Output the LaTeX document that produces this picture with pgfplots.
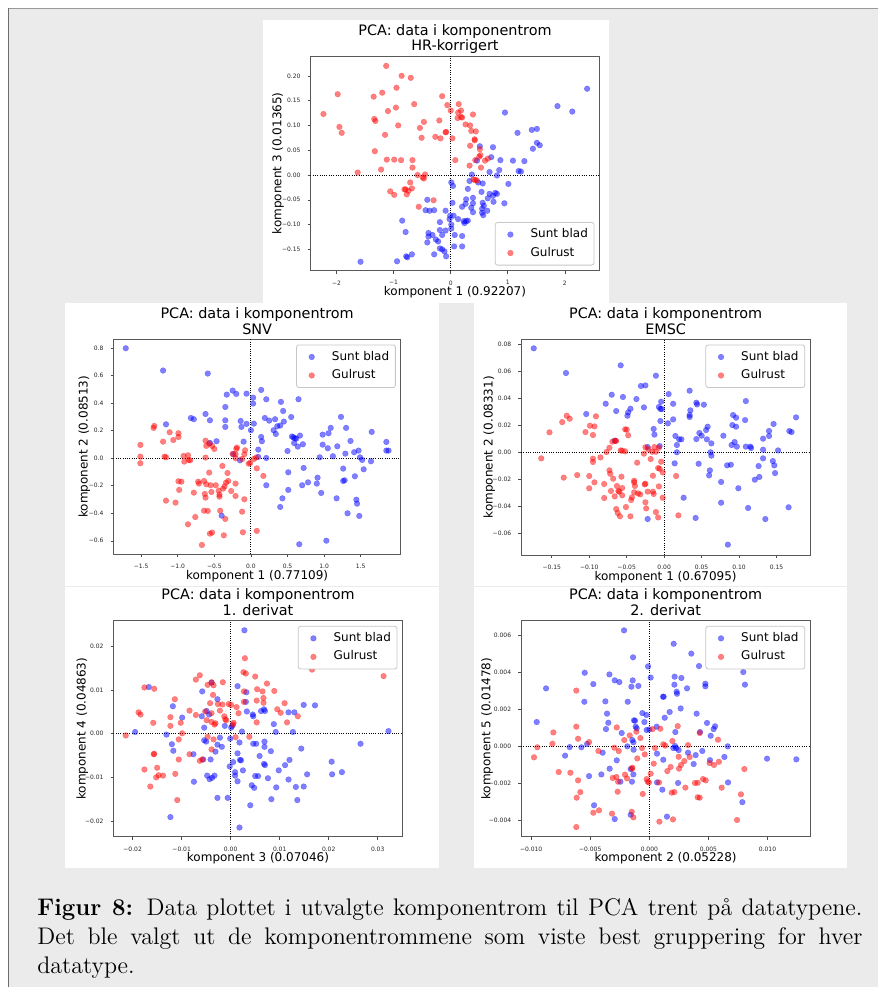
\documentclass[border=0pt]{standalone}
\usepackage{fontspec}
\newfontfamily\dejavu{DejaVu Sans}
\usepackage{pgfplots}
\pgfplotsset{compat=1.18}
\usetikzlibrary{calc}
\definecolor{bggray}{RGB}{235,235,235}
\definecolor{frameline}{RGB}{110,110,110}

\tikzset{zl/.style={black, line width=0.5pt, dash pattern=on 0.5pt off 0.65pt}}
\pgfplotsset{
  pca/.style={
    scale only axis, anchor=north west, scaled ticks=false,
    axis line style={black!65, line width=0.5pt},
    tick pos=left, tick align=outside, major tick length=1.4pt,
    every tick/.style={black!70, line width=0.3pt},
    tick label style={font=\dejavu\fontsize{3}{3.6}\selectfont, text=black!85},
    every axis title/.style={at={(axis description cs:0.5,1)}, anchor=south, inner sep=0pt,
      yshift=0.9pt, align=center, font=\dejavu\fontsize{7.2}{7.9}\selectfont},
    every axis x label/.style={at={(axis description cs:0.5,0)}, anchor=base, yshift=-12.6pt,
      font=\dejavu\fontsize{6}{7}\selectfont},
    legend cell align=left,
    legend style={draw=black!22, rounded corners=1.2pt, fill=white,
      font=\dejavu\fontsize{6}{7}\selectfont, inner xsep=1.5pt, inner ysep=1.4pt,
      nodes={inner sep=1.6pt}},
    legend image code/.code={\path (0pt,0pt) (14.2pt,0pt);
      \draw[##1] plot coordinates {(5.9pt,0pt)};},
  },
  ylab/.style 2 args={every axis y label/.style={rotate=90, anchor=base,
      at={($(axis description cs:0,0.5)+(-#1,0)$)}, font=\dejavu\fontsize{6}{7}\selectfont},
    ylabel={#2}},
  legtr/.style={legend style={at={(1,1)}, anchor=north east, xshift=-2.6pt, yshift=-2.6pt}},
  legbr/.style={legend style={at={(1,0)}, anchor=south east, xshift=-2.6pt, yshift=2.6pt}},
  sunt/.style={only marks, mark=*, mark size=1.45pt, color=blue,
    mark options={fill opacity=0.5, draw opacity=0.35, line width=0.15pt}},
  gul/.style={only marks, mark=*, mark size=1.45pt, color=red,
    mark options={fill opacity=0.5, draw opacity=0.35, line width=0.15pt}},
}
\newcommand{\zerolines}{%
  \draw[zl] ({axis cs:0,0}|-{rel axis cs:0,0}) -- ({axis cs:0,0}|-{rel axis cs:0,1});
  \draw[zl] ({rel axis cs:0,0}|-{axis cs:0,0}) -- ({rel axis cs:1,0}|-{axis cs:0,0});}

\begin{document}
\begin{tikzpicture}
\useasboundingbox (0,0) rectangle (439pt,-493.5pt);
% page background and the framed caption box
\begin{scope}[x=0.5pt, y=-0.5pt]
  \fill[white] (0,0) rectangle (878,987);
  \fill[bggray] (8,8) rectangle (878,987);
  \draw[black!40, line width=0.5pt] (8,8.3) -- (878,8.3);
  \draw[frameline, line width=0.5pt] (8.3,8) -- (8.3,987);
  \fill[white] (263,20) rectangle (609,303);
  \fill[white] (65,303) rectangle (439,586);
  \fill[white] (474,303) rectangle (847,586);
  \fill[white] (65,587) rectangle (439,868);
  \fill[white] (474,587) rectangle (847,868);
\end{scope}

% HR-korrigert
\begin{axis}[pca, legbr, at={(155.15pt,-28pt)}, width=144.7pt, height=107.35pt,
  xmin=-2.46, xmax=2.61, ymin=-0.193, ymax=0.240,
  xtick={-2,-1,0,1,2}, xticklabels={−2,−1,0,1,2},
  ytick={-0.15,-0.10,-0.05,0,0.05,0.10,0.15,0.20},
  yticklabels={−0.15,−0.10,−0.05,0.00,0.05,0.10,0.15,0.20},
  title={PCA: data i komponentrom\\HR-korrigert\vphantom{g}},
  xlabel={komponent 1 (0.92207)}, ylab={14.5pt}{komponent 3 (0.01365)}]
\addplot[sunt] coordinates {
(2.39,0.174) (1.87,0.139) (2.13,0.128) (0.95,0.126) (1.17,0.085) (1.42,0.091) (1.51,0.093)
(1.44,0.053) (1.51,0.065) (1.56,0.060) (0.74,0.056) (0.51,0.058) (0.71,0.036) (0.87,0.030)
(1.09,0.029) (1.29,0.028) (0.46,0.029) (0.85,0.010) (0.68,0.006) (1.19,0.008) (1.23,0.007)
(0.81,-0.001) (0.37,0.001) (1.01,-0.018) (0.33,-0.012) (0.48,-0.015) (0.56,-0.017) (0.01,-0.015)
(0.04,-0.022) (0.30,-0.028) (0.68,-0.038) (0.78,-0.036) (0.81,-0.038) (0.74,-0.042) (0.54,-0.034)
(0.39,-0.046) (0.27,-0.049) (0.26,-0.058) (0.39,-0.057) (0.56,-0.056) (0.58,-0.062) (0.75,-0.054)
(0.94,-0.057) (0.65,-0.047) (0.03,-0.056) (-0.41,-0.050) (-0.44,-0.071) (-0.37,-0.072) (-0.29,-0.071)
(-0.09,-0.072) (-0.01,-0.082) (0.05,-0.082) (0.20,-0.064) (0.36,-0.066) (0.39,-0.075) (0.55,-0.068)
(0.55,-0.076) (0.57,-0.081) (0.64,-0.072) (-0.02,-0.089) (-0.19,-0.095) (0.13,-0.089) (0.23,-0.093)
(0.27,-0.093) (0.30,-0.092) (0.24,-0.097) (-0.85,-0.092) (-0.79,-0.115) (0.01,-0.100) (0.01,-0.108)
(-0.09,-0.112) (-0.19,-0.111) (-0.39,-0.117) (-0.32,-0.121) (-0.39,-0.124) (-0.15,-0.121) (-0.26,-0.130)
(-0.22,-0.134) (-0.41,-0.136) (0.20,-0.123) (-0.19,-0.148) (-0.15,-0.150) (-0.11,-0.154) (0.06,-0.144)
(0.20,-0.144) (-0.08,-0.164) (-0.29,-0.160) (-0.68,-0.160) (-0.78,-0.164) (-0.76,-0.166) (-0.94,-0.174)
(-1.58,-0.175) (0.07,-0.121)};
\addplot[gul] coordinates {
(-1.13,0.220) (-0.86,0.200) (-0.70,0.196) (-1.98,0.163) (-0.95,0.176) (-1.20,0.166) (-1.35,0.158)
(-0.15,0.159) (-0.64,0.143) (-0.96,0.136) (-1.10,0.129) (-2.23,0.123) (0.14,0.143) (-0.06,0.141)
(0.00,0.130) (0.18,0.130) (0.13,0.126) (0.39,0.122) (0.20,0.116) (0.18,0.117) (0.12,0.115)
(-1.34,0.113) (-1.32,0.109) (-0.47,0.107) (-0.20,0.110) (0.26,0.102) (-1.95,0.097) (-0.92,0.100)
(-0.54,0.095) (0.34,0.100) (-1.91,0.085) (-1.15,0.081) (0.36,0.089) (0.44,0.088) (-0.08,0.087)
(-0.09,0.086) (-0.51,0.075) (-0.27,0.077) (-0.18,0.074) (0.03,0.074) (0.42,0.072) (0.42,0.070)
(0.34,0.059) (-1.33,0.048) (0.51,0.052) (0.52,0.040) (0.50,0.037) (0.65,0.033) (-1.12,0.031)
(-0.99,0.031) (-0.87,0.030) (-0.67,0.030) (0.08,0.030) (0.60,0.029) (0.43,0.030) (0.33,0.019)
(-0.67,0.015) (0.53,0.015) (-1.22,0.011) (-1.63,0.005) (-0.58,0.000) (-0.45,0.001) (-0.49,-0.005)
(-0.47,-0.007) (0.40,-0.009) (0.43,-0.010) (0.46,-0.011) (-0.71,-0.015) (-0.79,-0.029) (-0.81,-0.029)
(-0.68,-0.027) (-0.74,-0.032) (-1.06,-0.033) (-0.77,-0.039) (-0.99,-0.040) (-0.30,-0.051) (-0.56,-0.064)};
\legend{Sunt blad, Gulrust}
\zerolines
\end{axis}

% SNV
\begin{axis}[pca, legtr, at={(56.65pt,-169.65pt)}, width=143.85pt, height=107.5pt,
  xmin=-1.88, xmax=2.05, ymin=-0.698, ymax=0.865,
  xtick={-1.5,-1,-0.5,0,0.5,1,1.5}, xticklabels={−1.5,−1.0,−0.5,0.0,0.5,1.0,1.5},
  ytick={-0.6,-0.4,-0.2,0,0.2,0.4,0.6,0.8},
  yticklabels={−0.6,−0.4,−0.2,0.0,0.2,0.4,0.6,0.8},
  title={PCA: data i komponentrom\\SNV\vphantom{g}},
  xlabel={komponent 1 (0.77109)}, ylab={12.8pt}{komponent 2 (0.08513)}]
\addplot[sunt] coordinates {
(-1.71,0.80) (-1.20,0.638) (-0.59,0.616) (-0.25,0.492) (-0.33,0.463) (-0.20,0.468) (-0.06,0.470)
(0.03,0.441) (0.03,0.398) (0.14,0.497) (0.21,0.429) (0.55,0.300) (0.65,0.429) (0.41,0.41)
(0.44,0.344) (-0.35,0.373) (-0.62,0.322) (-0.82,0.293) (-0.78,0.284) (-0.56,0.276) (-0.35,0.276)
(-0.35,0.228) (-0.14,0.271) (-0.13,0.228) (-0.06,0.25) (0.04,0.252) (0.00,0.204) (0.19,0.293)
(0.25,0.274) (0.33,0.284) (0.45,0.267) (0.36,0.233) (0.40,0.238) (0.31,0.204) (0.34,0.177)
(0.14,0.155) (0.15,0.124) (-0.10,0.121) (-0.47,0.124) (-0.56,0.112) (-1.16,0.247) (0.10,0.063)
(0.10,0.010) (0.21,0.002) (-0.15,-0.015) (0.50,0.053) (0.56,0.158) (0.58,0.153) (0.60,0.145)
(0.62,0.143) (0.59,0.111) (0.64,0.085) (0.67,0.165) (0.71,0.102) (0.51,-0.102) (0.72,-0.070)
(0.51,-0.230) (0.70,-0.196) (0.78,-0.175) (0.21,-0.196) (0.43,-0.291) (0.40,-0.354) (0.96,-0.252)
(0.90,-0.184) (0.91,-0.141) (0.98,0.172) (1.06,0.182) (1.09,0.221) (1.05,0.073) (0.98,0.099)
(0.94,0.007) (1.12,0.015) (1.18,0.087) (1.23,0.301) (1.30,0.221) (1.29,0.034) (1.36,0.126)
(1.26,-0.075) (1.26,-0.165) (1.28,-0.160) (1.17,-0.291) (1.32,-0.400) (1.45,-0.330) (1.44,-0.301)
(1.42,-0.131) (1.41,0.044) (1.47,0.056) (1.49,0.007) (1.52,-0.012) (1.54,-0.080) (1.48,-0.419)
(1.65,0.192) (1.64,-0.022) (1.85,0.119) (1.85,0.056) (1.88,0.056) (0.66,-0.625) (1.03,-0.599)
(-0.40,-0.417) (-0.24,0.03)};
\addplot[gul] coordinates {
(-1.32,0.235) (-1.33,0.221) (-1.51,0.097) (-1.51,0.012) (-1.51,-0.036) (-1.11,0.189) (-1.20,0.121)
(-1.18,0.012) (-1.16,0.007) (-1.06,0.133) (-0.99,0.182) (-0.99,0.155) (-1.16,-0.308) (-1.03,-0.322)
(-0.99,-0.167) (-0.95,-0.170) (-0.98,-0.230) (-0.92,0.017) (-0.86,0.022) (-0.91,-0.024) (-0.85,-0.012)
(-0.83,-0.015) (-0.78,-0.250) (-0.76,-0.427) (-0.86,-0.480) (-0.62,0.128) (-0.61,0.090) (-0.62,0.005)
(-0.57,0.107) (-0.53,0.090) (-0.50,0.068) (-0.72,-0.170) (-0.71,-0.184) (-0.64,-0.165) (-0.61,-0.189)
(-0.55,-0.196) (-0.63,-0.259) (-0.62,-0.286) (-0.64,-0.381) (-0.59,-0.383) (-0.57,-0.104) (-0.56,-0.548)
(-0.53,-0.540) (-0.67,-0.630) (-0.48,-0.196) (-0.54,-0.245) (-0.44,-0.235) (-0.43,-0.264) (-0.43,-0.279)
(-0.42,-0.381) (-0.39,-0.056) (-0.38,-0.221) (-0.36,-0.204) (-0.34,-0.177) (-0.31,-0.165) (-0.32,-0.107)
(-0.35,-0.441) (-0.37,-0.560) (-0.27,-0.238) (-0.21,-0.184) (-0.21,-0.274) (-0.25,0.032) (-0.21,0.029)
(-0.20,0.068) (-0.19,0.078) (-0.21,0.000) (-0.12,-0.005) (-0.09,-0.298) (-0.12,-0.388) (-0.11,-0.538)
(-0.08,0.058) (-0.09,0.029) (-0.03,-0.039) (-0.01,-0.034) (0.04,-0.005) (0.07,0.005) (0.08,-0.073)
(0.17,-0.128) (0.08,-0.528)};
\legend{Sunt blad, Gulrust}
\zerolines
\end{axis}

% EMSC
\begin{axis}[pca, legtr, at={(260.5pt,-169.65pt)}, width=144.65pt, height=107.85pt,
  xmin=-0.191, xmax=0.195, ymin=-0.0764, ymax=0.0836,
  xtick={-0.15,-0.10,-0.05,0,0.05,0.10,0.15},
  xticklabels={−0.15,−0.10,−0.05,0.00,0.05,0.10,0.15},
  ytick={-0.06,-0.04,-0.02,0,0.02,0.04,0.06,0.08},
  yticklabels={−0.06,−0.04,−0.02,0.00,0.02,0.04,0.06,0.08},
  title={PCA: data i komponentrom\\EMSC\vphantom{g}},
  xlabel={komponent 1 (0.67095)}, ylab={14.2pt}{komponent 2 (0.08331)}]
\addplot[sunt] coordinates {
(-0.174,0.0769) (-0.131,0.0586) (-0.058,0.0643) (-0.011,0.0566) (-0.031,0.0490) (-0.025,0.0494)
(-0.070,0.0425) (-0.055,0.0408) (-0.037,0.0393) (0.006,0.0430) (0.034,0.0455) (-0.078,0.0358)
(-0.004,0.0373) (0.012,0.0358) (-0.045,0.0321) (-0.048,0.0294) (-0.049,0.0269) (-0.064,0.0304)
(-0.104,0.0282) (-0.027,0.0331) (-0.007,0.0334) (-0.005,0.0319) (-0.003,0.0319) (0.043,0.0366)
(0.044,0.0353) (0.053,0.0351) (0.035,0.0309) (0.034,0.0274) (0.034,0.0260) (0.012,0.0242)
(-0.005,0.0230) (0.005,0.0213) (0.109,0.0378) (0.092,0.0274) (0.096,0.0255) (0.108,0.0237)
(0.176,0.0257) (0.146,0.0208) (0.091,0.0200) (0.096,0.0188) (0.058,0.0188) (0.056,0.0163)
(0.140,0.0156) (0.047,0.0141) (0.050,0.0121) (0.079,0.0121) (0.140,0.0119) (0.132,0.0099)
(0.170,0.0148) (0.167,0.0156) (-0.014,0.0171) (-0.013,0.0129) (0.015,0.0119) (0.020,0.0094)
(0.023,0.0094) (0.017,0.0052) (0.043,0.0096) (0.057,0.0094) (0.063,0.0064) (0.094,0.0074)
(0.097,0.0040) (0.090,0.0052) (0.109,0.0040) (0.115,0.0040) (0.116,0.0030) (0.132,0.0017)
(0.152,0.0012) (-0.006,0.0044) (-0.022,0.0037) (0.017,-0.0002) (0.062,-0.0002) (0.063,-0.0027)
(0.132,-0.0047) (0.145,-0.0067) (0.147,-0.0099) (0.148,-0.0156) (0.084,-0.0099) (0.089,-0.0094)
(0.126,-0.0104) (0.127,-0.0185) (0.121,-0.0205) (0.014,-0.0084) (0.046,-0.0087) (0.061,-0.0136)
(0.060,-0.0173) (0.076,-0.0222) (0.099,-0.0269) (0.026,-0.0339) (0.076,-0.0376) (0.112,-0.0415)
(0.166,-0.0410) (0.042,-0.0489) (0.135,-0.0497) (-0.022,-0.0497) (0.085,-0.0687) (-0.066,0.0084)};
\addplot[gul] coordinates {
(-0.153,0.0146) (-0.164,-0.0047) (-0.130,0.0269) (-0.126,0.0247) (-0.136,0.0222) (-0.134,-0.0190)
(-0.116,-0.0171) (-0.105,0.0148) (-0.099,0.0195) (-0.093,0.0190) (-0.091,0.0265) (-0.095,0.0126)
(-0.095,-0.0049) (-0.095,-0.0074) (-0.100,-0.0178) (-0.100,-0.0269) (-0.093,-0.0225) (-0.085,-0.0040)
(-0.080,-0.0341) (-0.080,-0.0237) (-0.077,0.0000) (-0.073,0.0032) (-0.069,0.0077) (-0.065,0.0084)
(-0.064,0.0082) (-0.073,-0.0136) (-0.072,-0.0161) (-0.071,-0.0289) (-0.068,-0.0198) (-0.066,-0.0329)
(-0.064,-0.0423) (-0.062,-0.0452) (-0.059,-0.0477) (-0.063,-0.0252) (-0.061,-0.0289) (-0.060,-0.0294)
(-0.056,-0.0321) (-0.056,-0.0267) (-0.057,-0.0183) (-0.058,0.0012) (-0.056,0.0010) (-0.052,0.0005)
(-0.052,0.0168) (-0.050,0.0166) (-0.048,0.0124) (-0.051,-0.0408) (-0.045,-0.0477) (-0.044,-0.0356)
(-0.043,-0.0336) (-0.040,-0.0299) (-0.040,-0.0225) (-0.040,-0.0213) (-0.039,-0.0252) (-0.036,-0.0079)
(-0.035,-0.0307) (-0.032,-0.0314) (-0.026,-0.0240) (-0.025,-0.0235) (-0.025,-0.0373) (-0.024,-0.0418)
(-0.022,-0.0294) (-0.025,0.0035) (-0.027,-0.0012) (-0.021,0.0020) (-0.018,-0.0052) (-0.016,0.0002)
(-0.015,-0.0176) (-0.015,-0.0294) (-0.014,-0.0311) (-0.013,0.0037) (-0.011,0.0002) (-0.007,0.0032)
(-0.008,-0.0119) (-0.006,-0.0124) (-0.007,-0.0255) (-0.011,-0.0445) (-0.008,-0.0485) (-0.004,-0.0072)
(-0.002,-0.0151) (-0.002,-0.0339) (0.016,-0.0178) (0.019,-0.0470)};
\legend{Sunt blad, Gulrust}
\zerolines
\end{axis}

% 1. derivat
\begin{axis}[pca, legtr, at={(56.65pt,-310.35pt)}, width=144.7pt, height=108pt,
  xmin=-0.02395, xmax=0.0351, ymin=-0.0236, ymax=0.0259,
  xtick={-0.02,-0.01,0,0.01,0.02,0.03},
  xticklabels={−0.02,−0.01,0.00,0.01,0.02,0.03},
  ytick={-0.02,-0.01,0,0.01,0.02}, yticklabels={−0.02,−0.01,0.00,0.01,0.02},
  title={PCA: data i komponentrom\\1. derivat\vphantom{g}},
  xlabel={komponent 3 (0.07046)}, ylab={13.8pt}{komponent 4 (0.04863)}]
\addplot[sunt] coordinates {
(0.0028,0.0237) (-0.0195,0.0004) (-0.0167,0.0107) (-0.0118,0.0063) (-0.0099,0.0037) (-0.0131,-0.0002)
(-0.0120,-0.0024) (-0.0117,-0.0039) (-0.0123,-0.0191) (-0.0076,-0.0047) (-0.0075,-0.0110) (-0.0058,0.0097)
(-0.0059,0.0040) (-0.0054,0.0014) (-0.0054,-0.0015) (-0.0050,-0.0018) (-0.0056,-0.0059) (-0.0048,-0.0096)
(-0.0043,-0.0104) (-0.0038,-0.0101) (-0.0033,-0.0096) (-0.0039,0.0117) (-0.0049,0.0052) (-0.0044,0.0044)
(-0.0027,0.0079) (-0.0041,-0.0059) (-0.0031,-0.0041) (-0.0027,-0.0025) (-0.0018,-0.0030) (-0.0022,-0.0009)
(-0.0027,-0.0147) (-0.0012,0.0018) (-0.0006,-0.0147) (-0.0002,-0.0075) (-0.0001,-0.0011) (0.0001,0.0014)
(0.0003,0.0018) (0.0005,-0.0065) (0.0009,-0.0088) (0.0009,-0.0096) (0.0014,0.0109) (0.0014,-0.0045)
(0.0014,-0.0109) (0.0018,-0.0020) (0.0019,-0.0060) (0.0021,-0.0061) (0.0023,0.0005) (0.0025,-0.0084)
(0.0018,-0.0215) (0.0032,0.0095) (0.0031,0.0073) (0.0033,0.0051) (0.0040,-0.0164) (0.0043,-0.0118)
(0.0045,0.0044) (0.0046,0.0040) (0.0048,-0.0124) (0.0046,-0.0023) (0.0052,-0.0023) (0.0050,-0.0097)
(0.0056,-0.0097) (0.0059,-0.0051) (0.0062,0.0052) (0.0068,0.0056) (0.0070,0.0052) (0.0069,-0.0018)
(0.0069,-0.0030) (0.0068,-0.0069) (0.0070,-0.0072) (0.0076,-0.0102) (0.0082,-0.0040) (0.0083,-0.0150)
(0.0088,0.0022) (0.0092,0.0004) (0.0093,-0.0123) (0.0098,-0.0084) (0.0118,0.0049) (0.0118,-0.0105)
(0.0120,-0.0060) (0.0111,-0.0072) (0.0127,0.0004) (0.0130,0.0049) (0.0133,-0.0122) (0.0136,-0.0152)
(0.0144,-0.0034) (0.0149,0.0066) (0.0149,-0.0121) (0.0156,-0.0093) (0.0172,0.0065) (0.0206,-0.0064)
(0.0207,-0.0093) (0.0227,-0.0088) (0.0265,-0.0023) (0.0322,0.0006)};
\addplot[gul] coordinates {
(-0.0214,-0.0004) (-0.0188,0.0049) (-0.0184,0.0044) (-0.0176,0.0106) (-0.0156,0.0103) (-0.0176,-0.0082)
(-0.0158,0.0025) (-0.0157,-0.0047) (-0.0156,-0.0046) (-0.0150,-0.0078) (-0.0152,-0.0100) (-0.0147,-0.0095)
(-0.0164,-0.0121) (-0.0138,-0.0096) (-0.0123,0.0038) (-0.0123,0.0018) (-0.0114,0.0079) (-0.0113,-0.0092)
(-0.0109,-0.0152) (-0.0106,-0.0013) (-0.0106,-0.0059) (-0.0102,0.0025) (-0.0099,0.0001) (-0.0084,0.0053)
(-0.0084,-0.0047) (-0.0071,0.0124) (-0.0071,0.0043) (-0.0063,0.0134) (-0.0063,-0.0062) (-0.0058,-0.0059)
(-0.0052,0.0051) (-0.0049,0.0031) (-0.0047,0.0112) (-0.0039,0.0118) (-0.0035,0.0111) (-0.0042,0.0070)
(-0.0039,0.0047) (-0.0039,0.0027) (-0.0039,-0.0036) (-0.0036,0.0089) (-0.0033,0.0021) (-0.0031,0.0024)
(-0.0035,-0.0013) (-0.0047,-0.0007) (-0.0026,0.0068) (-0.0022,0.0053) (-0.0016,0.0118) (-0.0017,0.0067)
(-0.0013,0.0040) (-0.0011,0.0033) (-0.0009,0.0031) (-0.0004,0.0068) (0.0001,0.0066) (0.0006,0.0025)
(0.0005,0.0021) (0.0010,-0.0008) (0.0012,0.0061) (0.0016,0.0047) (0.0026,0.0141) (0.0029,0.0173)
(0.0031,0.0138) (0.0027,0.0097) (0.0027,0.0073) (0.0038,-0.0007) (0.0050,0.0131) (0.0054,0.0102)
(0.0053,0.0076) (0.0053,0.0026) (0.0065,0.0097) (0.0067,0.0082) (0.0067,0.0071) (0.0074,0.0115)
(0.0089,0.0098) (0.0095,0.0056) (0.0102,0.0048) (0.0110,0.0070) (0.0115,0.0026) (0.0137,0.0040)
(0.0166,0.0147) (0.0312,0.0132)};
\legend{Sunt blad, Gulrust}
\zerolines
\end{axis}

% 2. derivat
\begin{axis}[pca, legtr, at={(260.5pt,-310.35pt)}, width=144.65pt, height=108pt,
  xmin=-0.01086, xmax=0.01362, ymin=-0.00486, ymax=0.00676,
  xtick={-0.01,-0.005,0,0.005,0.01},
  xticklabels={−0.010,−0.005,0.000,0.005,0.010},
  ytick={-0.004,-0.002,0,0.002,0.004,0.006},
  yticklabels={−0.004,−0.002,0.000,0.002,0.004,0.006},
  title={PCA: data i komponentrom\\2. derivat\vphantom{g}},
  xlabel={komponent 2 (0.05228)}, ylab={15.3pt}{komponent 5 (0.01478)}]
\addplot[sunt] coordinates {
(-0.00214,0.00624) (0.00206,0.00552) (0.00355,0.00499) (-0.00011,0.00430) (-0.00138,0.00479)
(0.00011,0.00370) (0.00420,0.00432) (-0.00547,0.00396) (-0.00338,0.00387) (-0.00293,0.00355)
(-0.00254,0.00346) (-0.00141,0.00355) (-0.00152,0.00321) (-0.00093,0.00325) (0.00214,0.00375)
(0.00271,0.00368) (0.00212,0.00332) (0.00231,0.00294) (0.00234,0.00283) (0.00319,0.00312)
(0.00474,0.00337) (0.00474,0.00323) (0.00795,0.00400) (0.00809,0.00332) (-0.00474,0.00335)
(-0.00874,0.00312) (-0.00550,0.00240) (-0.00372,0.00242) (-0.00358,0.00176) (-0.00347,0.00127)
(-0.00367,0.00093) (-0.00183,0.00240) (0.00116,0.00267) (0.00121,0.00267) (0.00265,0.00204)
(0.00172,0.00185) (0.00130,0.00154) (0.00400,0.00176) (-0.00059,0.00179) (-0.00025,0.00169)
(-0.00042,0.00131) (-0.00130,0.00140) (-0.00121,0.00138) (-0.00116,0.00106) (-0.00107,0.00097)
(-0.00953,0.00131) (-0.00234,0.00072) (-0.00023,0.00088) (0.00000,0.00091) (0.00062,0.00106)
(0.00220,0.00077) (0.00488,0.00126) (0.00556,0.00108) (0.00544,0.00093) (0.00519,0.00057)
(0.00429,0.00077) (-0.00144,0.00034) (-0.00135,0.00022) (-0.00186,0.00000) (-0.00674,-0.00004)
(-0.00575,-0.00005) (-0.00527,0.00013) (-0.00713,-0.00050) (-0.00395,-0.00034) (-0.00133,-0.00018)
(0.00203,-0.00009) (0.00217,0.00002) (0.00228,-0.00009) (0.00248,-0.00020) (0.00327,-0.00034)
(0.00392,-0.00047) (0.00448,-0.00025) (0.00065,-0.00039) (0.00118,-0.00072) (-0.00276,-0.00075)
(-0.00336,-0.00120) (-0.00158,-0.00122) (-0.00135,-0.00151) (0.00375,-0.00095) (0.00513,-0.00074)
(0.00635,-0.00057) (0.00663,0.00000) (0.00996,-0.00066) (0.01244,-0.00070) (-0.00510,-0.00160)
(-0.00406,-0.00151) (-0.00245,-0.00190) (-0.00147,-0.00190) (0.00065,-0.00194) (0.00110,-0.00233)
(0.00243,-0.00197) (0.00666,-0.00194) (0.00787,-0.00300) (-0.00468,-0.00317) (-0.00158,-0.00368)
(-0.00293,-0.00391) (0.00149,-0.00378)};
\addplot[gul] coordinates {
(-0.00976,-0.00059) (-0.00948,-0.00005) (-0.00812,0.00075) (-0.00820,0.00014) (-0.00767,-0.00138)
(-0.00668,-0.00142) (-0.00618,0.00300) (-0.00618,0.00106) (-0.00603,0.00041) (-0.00603,-0.00183)
(-0.00615,-0.00276) (-0.00584,-0.00246) (-0.00618,-0.00434) (-0.00510,0.00023) (-0.00431,-0.00025)
(-0.00474,-0.00357) (-0.00426,-0.00344) (-0.00316,-0.00362) (-0.00310,-0.00170) (-0.00279,-0.00165)
(-0.00296,-0.00007) (-0.00276,0.00102) (-0.00265,-0.00190) (-0.00259,-0.00025) (-0.00268,-0.00244)
(-0.00212,0.00034) (-0.00206,-0.00152) (-0.00189,-0.00172) (-0.00166,0.00059) (-0.00147,-0.00120)
(-0.00144,-0.00115) (-0.00149,-0.00352) (-0.00135,-0.00382) (-0.00110,0.00079) (-0.00102,-0.00065)
(-0.00076,0.00045) (-0.00062,-0.00009) (-0.00056,-0.00256) (-0.00039,-0.00043) (-0.00023,-0.00176)
(-0.00014,-0.00190) (0.00011,-0.00147) (0.00028,0.00093) (0.00037,-0.00093) (0.00048,-0.00009)
(-0.00003,-0.00194) (0.00082,-0.00194) (0.00093,0.00095) (0.00085,-0.00405) (0.00118,0.00011)
(0.00135,0.00004) (0.00152,-0.00133) (0.00180,-0.00111) (0.00189,-0.00249) (0.00195,0.00029)
(0.00200,-0.00393) (0.00212,-0.00246) (0.00240,0.00109) (0.00248,-0.00056) (0.00251,-0.00120)
(0.00268,-0.00100) (0.00296,-0.00079) (0.00305,-0.00222) (0.00327,0.00007) (0.00341,-0.00057)
(0.00386,-0.00197) (0.00409,-0.00196) (0.00409,-0.00274) (0.00426,-0.00276) (0.00426,0.00072)
(0.00454,-0.00176) (0.00477,-0.00183) (0.00510,-0.00090) (0.00547,-0.00100) (0.00589,-0.00083)
(0.00581,0.00036) (0.00612,-0.00222) (0.00775,-0.00258) (0.00804,-0.00122) (0.00742,-0.00396)};
\legend{Sunt blad, Gulrust}
\zerolines
\end{axis}

% caption
\node[anchor=base west, inner sep=0pt, text width=412.5pt, align=justify,
  font=\fontsize{12}{14.5}\selectfont] at (18.5pt,-457.5pt)
  {\textbf{Figur 8:} Data plottet i utvalgte komponentrom til PCA trent på datatypene.\linebreak
   Det ble valgt ut de komponentrommene som viste best gruppering for hver\linebreak
   datatype.};
\end{tikzpicture}
\end{document}
